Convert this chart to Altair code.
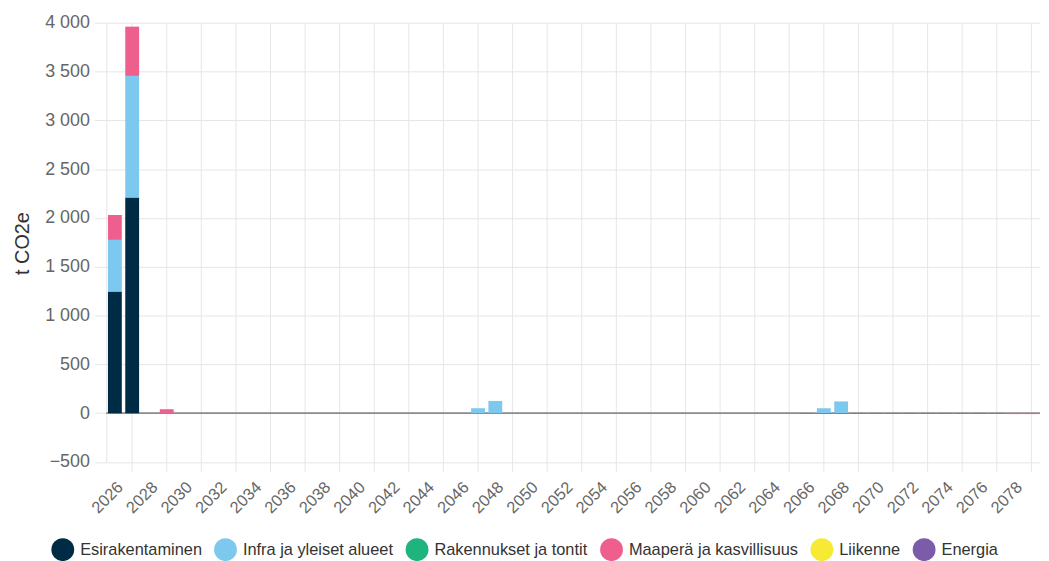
import altair as alt
import pandas as pd

years = list(range(2026, 2080))
categories = ["Esirakentaminen", "Infra ja yleiset alueet", "Rakennukset ja tontit",
              "Maaperä ja kasvillisuus", "Liikenne", "Energia"]
colors = ["#002b45", "#7cc8ee", "#1fb37e", "#ee5f8e", "#f7ea35", "#7a5ca8"]

# values per year (2026 ... 2079), t CO2e
esirakentaminen = {2026: 1245, 2027: 2210}
infra = {2026: 530, 2027: 1245, 2047: 50, 2048: 125, 2067: 50, 2068: 120}
rakennukset = {}
maapera = {2026: 255, 2027: 505, 2029: 40,
           2049: -3, 2050: -3, 2051: -3, 2052: -3, 2053: -3, 2054: -3, 2055: -3,
           2056: -3, 2057: -3, 2058: -3, 2059: -3, 2060: -3, 2061: -3, 2062: -3,
           2063: -3, 2064: -3, 2065: -3, 2078: -10, 2079: -10}
liikenne = {}
energia = {2066: -4, 2067: -4, 2068: -4, 2069: -4, 2070: -4, 2071: -4, 2072: -4,
           2073: -4, 2074: -4, 2075: -4, 2076: -4, 2077: -4}

series = [esirakentaminen, infra, rakennukset, maapera, liikenne, energia]

label_years = [y for y in years if y % 2 == 0]
grid_years = [y for y in years if y % 2 == 1]

rows = []
for i, (cat, s) in enumerate(zip(categories, series)):
    for y, v in s.items():
        rows.append({"year": y, "cat": cat, "value": v, "ord": i})
df = pd.DataFrame(rows)
grid_df = pd.DataFrame({"year": grid_years})
zero_df = pd.DataFrame({"v": [0]})

W = 941
H = 442.6

xscale = alt.Scale(domain=years, paddingInner=0.2, paddingOuter=0.1)
yscale = alt.Scale(domain=[-500, 4000], nice=False, zero=False)

xaxis = alt.Axis(values=label_years, labelAngle=-45, labelAlign="right",
                 labelBaseline="top", labelFontSize=16.5, labelColor="#666666",
                 labelPadding=17, ticks=False, tickSize=0, grid=False,
                 domain=False, labelOverlap=False, title=None)
yaxis = alt.Axis(values=list(range(-500, 4001, 500)),
                 labelExpr="replace(format(datum.value, ','), ',', ' ')",
                 grid=True, gridColor="#e6e6e6", tickSize=12, tickColor="#e6e6e6",
                 labelPadding=5, labelFontSize=18, labelColor="#666666",
                 domainColor="#e6e6e6", title="t CO2e", titleX=-74, titleY=222,
                 titleAngle=-90, titleBaseline="bottom", titleAlign="center",
                 titleFontSize=20, titleFontWeight="normal", titleColor="#333333")

grid = alt.Chart(grid_df).mark_rule(color="#e6e6e6", strokeWidth=1).encode(
    x=alt.X("year:O", scale=xscale, axis=xaxis),
    y=alt.value(0),
    y2=alt.value(H + 10),
)

zero = alt.Chart(zero_df).mark_rule(color="#8c8c8c", strokeWidth=2).encode(
    y=alt.Y("v:Q", scale=yscale, axis=yaxis),
)

bars = alt.Chart(df).mark_bar().encode(
    x=alt.X("year:O", scale=xscale, axis=xaxis),
    y=alt.Y("value:Q", stack="zero", scale=yscale, axis=yaxis),
    color=alt.Color("cat:N", scale=alt.Scale(domain=categories, range=colors),
                    legend=alt.Legend(orient="none", legendX=-55.3, legendY=519.5,
                                      direction="horizontal", columns=6, title=None,
                                      symbolType="circle", symbolSize=529,
                                      symbolStrokeWidth=0, symbolOpacity=1,
                                      labelFontSize=16.5, labelColor="#333333",
                                      labelOffset=6, columnPadding=12, padding=0,
                                      labelLimit=400)),
    order=alt.Order("ord:Q", sort="ascending"),
)

chart = alt.layer(grid, zero, bars).properties(
    width=W, height=H,
    padding={"left": 99, "top": 12.7, "right": 1, "bottom": 97.7},
    autosize=alt.AutoSizeParams(type="none"),
).configure(font="Liberation Sans").configure_view(stroke=None)

chart.save("out.html", embed_options={"renderer": "svg", "actions": False})
